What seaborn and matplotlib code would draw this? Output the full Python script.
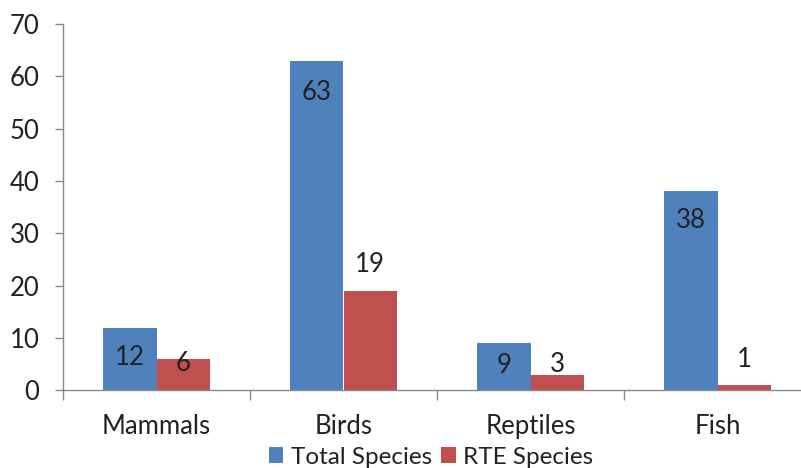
import matplotlib
matplotlib.use("Agg")
import matplotlib.pyplot as plt
import seaborn as sns
import pandas as pd

# Species counts per animal group
groups = ["Mammals", "Birds", "Reptiles", "Fish"]
total_species = [12, 63, 9, 38]
rte_species = [6, 19, 3, 1]
series_names = ["Total Species", "RTE Species"]
colors = ["#4F81BD", "#C0504D"]

# vertical offset of each value label from its bar top (data units)
total_label_offset = [-5.8, -6.0, -4.2, -5.5]
rte_label_offset = [-0.8, 5.0, 2.0, 4.8]

FS = 18.5

sns.set_theme(style="white")
plt.rcParams["font.family"] = ["Lato", "DejaVu Sans"]

df = pd.DataFrame({
    "group": groups * 2,
    "count": total_species + rte_species,
    "series": [series_names[0]] * len(groups) + [series_names[1]] * len(groups),
})

fig = plt.figure(figsize=(8.01, 4.68), dpi=100)
ax = fig.add_axes([63 / 801, 1 - 390.3 / 468, 748 / 801, (390.3 - 24) / 468])

sns.barplot(data=df, x="group", y="count", hue="series", order=groups,
            hue_order=series_names, palette=colors, width=0.573,
            saturation=1, linewidth=0, ax=ax, legend=True)

ax.set_xlim(-0.5, len(groups) - 0.5)
ax.set_ylim(0, 70)
ax.set_yticks(range(0, 71, 10))
ax.set_xlabel("")
ax.set_ylabel("")

axis_color = "#898989"
for side in ["top", "right"]:
    ax.spines[side].set_visible(False)
for side in ["left", "bottom"]:
    ax.spines[side].set_color(axis_color)
    ax.spines[side].set_linewidth(1.0)

ax.tick_params(axis="y", length=6, width=1, color=axis_color, pad=11,
               labelsize=FS, labelcolor="#222222", left=True)
# category ticks sit on the group boundaries
ax.set_xticks([i - 0.5 for i in range(len(groups) + 1)], minor=True)
ax.tick_params(axis="x", which="minor", length=7, width=1, color=axis_color,
               direction="out", bottom=True)
ax.tick_params(axis="x", which="major", length=0, pad=17, labelsize=FS,
               labelcolor="#222222")

half = 0.573 / 4
for i in range(len(groups)):
    ax.text(i - half, total_species[i] + total_label_offset[i], str(total_species[i]),
            ha="center", va="center", fontsize=FS, color="#222222")
    ax.text(i + half, rte_species[i] + rte_label_offset[i], str(rte_species[i]),
            ha="center", va="center", fontsize=FS, color="#222222")

handles, labels = ax.get_legend_handles_labels()
ax.get_legend().remove()
fig.legend(handles, labels, loc="lower center", bbox_to_anchor=(431 / 801, -0.046),
           ncol=2, frameon=False, fontsize=17.5, handlelength=0.6, handleheight=0.6,
           handletextpad=0.3, columnspacing=0.4, labelcolor="#222222")

fig.savefig("out.png", dpi=100)
